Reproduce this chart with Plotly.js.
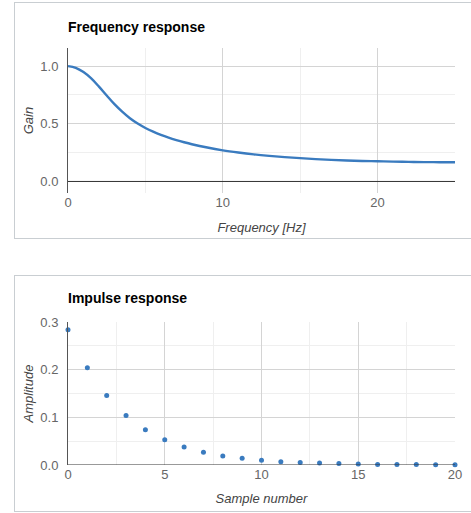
<!DOCTYPE html>
<html>
<head>
<meta charset="utf-8">
<script src="https://cdn.plot.ly/plotly-3.0.1.min.js"></script>
<style>
  html, body { margin: 0; padding: 0; background: #fff; width: 471px; height: 513px; overflow: hidden; }
  .box { position: absolute; left: 14px; width: 470px; height: 235px; border: 1px solid #c9ced2; }
  #b1 { top: 2px; }
  #b2 { top: 275px; }
  .plot { width: 470px; height: 235px; }
</style>
</head>
<body>
<div class="box" id="b1"><div class="plot" id="freq"></div></div>
<div class="box" id="b2"><div class="plot" id="imp"></div></div>
<script>
// Frequency response
const freqHz = [0, 0.5, 1, 1.5, 2, 2.5, 3, 3.5, 4, 4.5, 5, 5.5, 6, 6.5, 7, 7.5, 8, 9, 10, 11, 12, 13, 14, 15, 16, 17, 18, 19, 20, 21, 22, 23, 24, 25];
const gain   = [1.0, 0.985, 0.948, 0.893, 0.822, 0.745, 0.670, 0.605, 0.548, 0.502, 0.464, 0.432, 0.404, 0.380, 0.359, 0.340, 0.323, 0.294, 0.270, 0.251, 0.235, 0.222, 0.211, 0.202, 0.194, 0.187, 0.182, 0.178, 0.175, 0.172, 0.170, 0.168, 0.167, 0.166];

// Impulse response
const sampleNumber = [0, 1, 2, 3, 4, 5, 6, 7, 8, 9, 10, 11, 12, 13, 14, 15, 16, 17, 18, 19, 20];
const amplitude    = [0.284, 0.204, 0.146, 0.104, 0.074, 0.053, 0.038, 0.027, 0.019, 0.014, 0.010, 0.007, 0.005, 0.004, 0.003, 0.002, 0.001, 0.001, 0.001, 0.0005, 0.0003];

const freqTicks = [0, 10, 20];
const gainTicks = [0, 0.5, 1.0];
const sampleTicks = [0, 5, 10, 15, 20];
const ampTicks = [0, 0.1, 0.2, 0.3];

const lineColor = '#3a7bbf';
const font = 'Arial, "Liberation Sans", sans-serif';

function axisBase() {
  return {
    showgrid: true, gridcolor: '#d4d4d4', gridwidth: 1,
    zeroline: false, showline: false, ticks: '',
    tickfont: { family: font, size: 13, color: '#666' },
    fixedrange: true
  };
}

const freqLayout = {
  width: 470, height: 235,
  margin: { l: 53, r: 30, t: 45, b: 45 },
  paper_bgcolor: '#fff', plot_bgcolor: '#fff',
  showlegend: false,
  title: { text: '<b>Frequency response</b>', x: 0.1128, xref: 'container', xanchor: 'left',
           y: 0.898, yref: 'container', yanchor: 'middle',
           font: { family: font, size: 14, color: '#000' } },
  xaxis: Object.assign(axisBase(), {
    range: [0, 25], tickvals: freqTicks, ticktext: freqTicks.map(String),
    minor: { dtick: 5, tick0: 0, showgrid: true, gridcolor: '#efefef', gridwidth: 1, ticks: '' },
    title: { text: '<i>Frequency [Hz]</i>', standoff: 13, font: { family: font, size: 13, color: '#444' } }
  }),
  yaxis: Object.assign(axisBase(), {
    range: [-0.1, 1.157], tickvals: gainTicks, ticktext: ['0.0', '0.5', '1.0'],
    minor: { dtick: 0.25, tick0: 0, showgrid: true, gridcolor: '#efefef', gridwidth: 1, ticks: '' },
    showline: true, linecolor: '#555', linewidth: 1,
    ticklabelstandoff: 6,
    title: { text: '<i>Gain</i>', standoff: 3, font: { family: font, size: 13, color: '#444' } }
  }),
  shapes: [{ type: 'line', xref: 'paper', x0: 0, x1: 1, yref: 'y', y0: 0, y1: 0,
             line: { color: '#333', width: 1 }, layer: 'above' }]
};

const freqTrace = {
  x: freqHz, y: gain, type: 'scatter', mode: 'lines',
  line: { color: lineColor, width: 2.4, shape: 'spline', smoothing: 1 },
  hoverinfo: 'none'
};

const impLayout = {
  width: 470, height: 235,
  margin: { l: 53, r: 30, t: 46, b: 46 },
  paper_bgcolor: '#fff', plot_bgcolor: '#fff',
  showlegend: false,
  title: { text: '<b>Impulse response</b>', x: 0.1128, xref: 'container', xanchor: 'left',
           y: 0.906, yref: 'container', yanchor: 'middle',
           font: { family: font, size: 14, color: '#000' } },
  xaxis: Object.assign(axisBase(), {
    range: [0, 20], tickvals: sampleTicks, ticktext: sampleTicks.map(String),
    minor: { dtick: 2.5, tick0: 0, showgrid: true, gridcolor: '#efefef', gridwidth: 1, ticks: '' },
    title: { text: '<i>Sample number</i>', standoff: 12, font: { family: font, size: 13, color: '#444' } }
  }),
  yaxis: Object.assign(axisBase(), {
    range: [0, 0.3], tickvals: ampTicks, ticktext: ['0.0', '0.1', '0.2', '0.3'],
    minor: { dtick: 0.05, tick0: 0, showgrid: true, gridcolor: '#efefef', gridwidth: 1, ticks: '' },
    showline: true, linecolor: '#555', linewidth: 1,
    ticklabelstandoff: 6,
    title: { text: '<i>Amplitude</i>', standoff: 3, font: { family: font, size: 13, color: '#444' } }
  }),
  shapes: [{ type: 'line', xref: 'paper', x0: 0, x1: 1, yref: 'y', y0: 0, y1: 0,
             line: { color: '#333', width: 1 }, layer: 'above' }]
};

const impTrace = {
  x: sampleNumber, y: amplitude, type: 'scatter', mode: 'markers',
  marker: { color: lineColor, size: 5 },
  cliponaxis: false, hoverinfo: 'none'
};

const cfg = { displayModeBar: false, staticPlot: true };
Plotly.newPlot('freq', [freqTrace], freqLayout, cfg);
Plotly.newPlot('imp', [impTrace], impLayout, cfg);
</script>
</body>
</html>
